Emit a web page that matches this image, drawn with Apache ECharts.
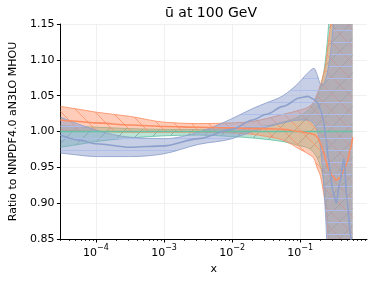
<!DOCTYPE html>
<html><head><meta charset="utf-8">
<script src="https://cdn.jsdelivr.net/npm/echarts@6/dist/echarts.min.js"></script>
<style>html,body{margin:0;padding:0;background:#fff}#c{width:374px;height:281px}</style>
</head><body><div id="c"></div>
<script>
// x grid (momentum fraction)
const xValues = [3.0e-5, 5.6e-5, 1e-4, 3.2e-4, 1e-3, 3.2e-3, 1e-2, 2.0e-2, 3.2e-2, 5.6e-2, 0.1, 0.13, 0.16, 0.18, 0.2, 0.22, 0.24, 0.26, 0.28, 0.3, 0.34, 0.38, 0.44, 0.49, 0.55, 0.59];

// NNPDF4.0 aN3LO MHOU (reference, green)
const greenMid = [1,1,1,1,1,1,1,1,1,1,1,1,1,1,1,1,1,1,1,1,1,1,1,1,1,1];
const greenLo = [0.978, 0.982, 0.986, 0.991, 0.994, 0.995, 0.993, 0.991, 0.989, 0.986, 0.980, 0.977, 0.970, 0.962, 0.950, 0.932, 0.905, 0.860, 0.80, 0.80, 0.80, 0.80, 0.80, 0.80, 0.80, 0.80];
const greenHi = [1.008, 1.007, 1.006, 1.004, 1.003, 1.003, 1.004, 1.006, 1.008, 1.013, 1.022, 1.030, 1.040, 1.050, 1.063, 1.080, 1.107, 1.145, 1.20, 1.20, 1.20, 1.20, 1.20, 1.20, 1.20, 1.20];

// orange set
const orangeMid = [1.016, 1.014, 1.012, 1.009, 1.007, 1.006, 1.005, 1.004, 1.004, 1.003, 1.000, 0.998, 0.996, 0.992, 0.983, 0.972, 0.958, 0.948, 0.942, 0.938, 0.932, 0.935, 0.946, 0.957, 0.976, 0.992];
const orangeLo = [1.002, 1.001, 1.000, 0.999, 0.999, 0.999, 0.998, 0.996, 0.993, 0.988, 0.975, 0.969, 0.962, 0.948, 0.937, 0.915, 0.890, 0.840, 0.80, 0.80, 0.80, 0.80, 0.80, 0.80, 0.80, 0.80];
const orangeHi = [1.035, 1.031, 1.027, 1.021, 1.013, 1.011, 1.012, 1.014, 1.018, 1.024, 1.030, 1.034, 1.042, 1.054, 1.066, 1.080, 1.097, 1.125, 1.150, 1.20, 1.20, 1.20, 1.20, 1.20, 1.20, 1.20];

// blue set
const blueMid = [0.995, 0.988, 0.983, 0.978, 0.980, 0.990, 1.003, 1.016, 1.024, 1.035, 1.047, 1.049, 1.045, 1.040, 1.030, 1.015, 0.990, 0.962, 0.939, 0.918, 0.900, 0.928, 0.962, 0.903, 0.855, 0.820];
const blueLo = [0.970, 0.967, 0.965, 0.965, 0.969, 0.982, 0.990, 1.000, 1.006, 1.012, 1.016, 1.016, 1.010, 1.000, 0.975, 0.930, 0.870, 0.80, 0.80, 0.80, 0.80, 0.80, 0.80, 0.80, 0.80, 0.80];
const blueHi = [1.020, 1.010, 1.002, 0.992, 0.990, 0.999, 1.018, 1.032, 1.040, 1.050, 1.070, 1.082, 1.088, 1.078, 1.066, 1.066, 1.075, 1.090, 1.110, 1.140, 1.20, 1.20, 1.20, 1.20, 1.20, 1.20];

// axes
const xMin = 3.0e-5, xMax = 0.96;
const xMajorTicks = [1e-4, 1e-3, 1e-2, 1e-1];
const xMinorTicks = [3e-5,4e-5,5e-5,6e-5,7e-5,8e-5,9e-5, 2e-4,3e-4,4e-4,5e-4,6e-4,7e-4,8e-4,9e-4, 2e-3,3e-3,4e-3,5e-3,6e-3,7e-3,8e-3,9e-3, 2e-2,3e-2,4e-2,5e-2,6e-2,7e-2,8e-2,9e-2, 0.2,0.3,0.4,0.5,0.6,0.7,0.8,0.9];
const yMin = 0.85, yMax = 1.15, yStep = 0.05;

const titleText = 'ū at 100 GeV';
const yTitle = 'Ratio to NNPDF4.0 aN3LO MHOU';
const xTitle = 'x';

const GREEN = '#66c2a5', ORANGE = '#fc8d62', BLUE = '#8da0cb';
const FONT = 'DejaVu Sans';
const L = Math.log10;

function hatch(fill, line, kind, size) {
  const c = document.createElement('canvas');
  c.width = size; c.height = size;
  const g = c.getContext('2d');
  g.fillStyle = fill; g.fillRect(0, 0, size, size);
  g.strokeStyle = line; g.lineWidth = 1;
  g.beginPath();
  if (kind === '\\') {
    for (const k of [-size, 0, size]) { g.moveTo(k, 0); g.lineTo(k + size, size); }
  } else if (kind === '/') {
    for (const k of [-size, 0, size]) { g.moveTo(k, size); g.lineTo(k + size, 0); }
  } else {
    g.moveTo(0, size / 2 + 0.5); g.lineTo(size, size / 2 + 0.5);
  }
  g.stroke();
  return c;
}

const patGreen = hatch('rgba(102,194,165,0.45)', 'rgba(70,120,100,0.45)', '/', 17);
const patOrange = hatch('rgba(252,141,98,0.45)', 'rgba(252,141,98,0.75)', '\\', 17);
const patBlue = hatch('rgba(141,160,203,0.5)', 'rgba(175,190,235,0.95)', '-', 12);

// monotone cubic (in pixel x) path through pixel points
function tangents(p) {
  const n = p.length, d = [], m = [];
  for (let i = 0; i < n - 1; i++) d.push((p[i + 1][1] - p[i][1]) / (p[i + 1][0] - p[i][0]));
  m[0] = d[0]; m[n - 1] = d[n - 2];
  for (let i = 1; i < n - 1; i++) {
    const h0 = p[i][0] - p[i - 1][0], h1 = p[i + 1][0] - p[i][0];
    const s0 = d[i - 1], s1 = d[i];
    const q = (s0 * h1 + s1 * h0) / (h0 + h1);
    m[i] = (Math.sign(s0) + Math.sign(s1)) * Math.min(Math.abs(s0), Math.abs(s1), 0.5 * Math.abs(q)) || 0;
  }
  return m;
}
function segs(p) {
  const m = tangents(p), out = [];
  for (let i = 0; i < p.length - 1; i++) {
    const h = p[i + 1][0] - p[i][0];
    out.push([[p[i][0] + h / 3, p[i][1] + m[i] * h / 3], [p[i + 1][0] - h / 3, p[i + 1][1] - m[i + 1] * h / 3]]);
  }
  return out;
}
function fwd(p) {
  const s = segs(p);
  let d = 'M' + p[0][0] + ' ' + p[0][1];
  for (let i = 0; i < s.length; i++) d += ' C' + s[i][0].join(' ') + ' ' + s[i][1].join(' ') + ' ' + p[i + 1].join(' ');
  return d;
}
function bwd(p) {
  const s = segs(p);
  let d = '';
  for (let i = s.length - 1; i >= 0; i--) d += ' C' + s[i][1].join(' ') + ' ' + s[i][0].join(' ') + ' ' + p[i].join(' ');
  return d;
}

function band(color, lo, hi, pat) {
  return {
    type: 'custom', coordinateSystem: 'cartesian2d', silent: true, z: 2,
    data: xValues.map((x, i) => [L(x), lo[i], hi[i]]),
    encode: { x: 0, y: 1 },
    renderItem: (params, api) => {
      if (params.dataIndex !== 0) return null;
      const loP = xValues.map((x, i) => api.coord([L(x), lo[i]]));
      const hiP = xValues.map((x, i) => api.coord([L(x), hi[i]]));
      const n = hiP.length;
      const cs = params.coordSys;
      const fillD = fwd(loP) + ' L' + hiP[n - 1].join(' ') + bwd(hiP) + ' Z';
      const edge = { fill: null, stroke: color, lineWidth: 1, opacity: 0.85 };
      return {
        type: 'group',
        clipPath: { type: 'rect', shape: { x: cs.x, y: cs.y, width: cs.width, height: cs.height } },
        children: [
          { type: 'path', shape: { pathData: fillD }, style: { fill: { image: pat, repeat: 'repeat' }, stroke: null } },
          { type: 'path', shape: { pathData: fwd(loP) }, style: edge },
          { type: 'path', shape: { pathData: fwd(hiP) }, style: edge }
        ]
      };
    }
  };
}
function mid(color, arr) {
  return { type: 'line', data: xValues.map((x, i) => [L(x), arr[i]]), symbol: 'none', smooth: 0.3, smoothMonotone: 'x', lineStyle: { color: color, width: 1.6 }, silent: true, z: 3 };
}

const chart = echarts.init(document.getElementById('c'), null, { renderer: 'canvas' });
chart.setOption({
  animation: false,
  backgroundColor: '#fff',
  grid: { left: 55, right: 7, top: 24, bottom: 42, containLabel: false },
  graphic: [{
    type: 'text', x: 211, y: 13, z: 10,
    style: { text: titleText, font: '14px "DejaVu Sans"', fill: '#000', textAlign: 'center', textVerticalAlign: 'middle' }
  }],
  xAxis: [{
    type: 'value', min: L(xMin), max: L(xMax),
    axisLine: { show: true, onZero: false, lineStyle: { color: '#000', width: 1 } },
    axisTick: { show: true, length: 3.5, customValues: xMajorTicks.map(L), lineStyle: { color: '#000', width: 1 } },
    axisLabel: {
      customValues: xMajorTicks.map(L), margin: 5,
      formatter: v => '{b|10}{s|' + (Math.round(v) < 0 ? '−' : '') + Math.abs(Math.round(v)) + '}',
      rich: {
        b: { fontFamily: FONT, fontSize: 11, color: '#000', lineHeight: 15, verticalAlign: 'bottom' },
        s: { fontFamily: FONT, fontSize: 8, color: '#000', lineHeight: 15, verticalAlign: 'top' }
      }
    },
    splitLine: { show: true, lineStyle: { color: '#ececec', width: 0.8 } },
    name: xTitle, nameLocation: 'middle', nameGap: 22,
    nameTextStyle: { fontFamily: FONT, fontSize: 11, color: '#000' }
  }, {
    type: 'value', min: L(xMin), max: L(xMax), gridIndex: 0, position: 'bottom',
    axisLine: { show: false },
    axisTick: { show: true, length: 2, customValues: xMinorTicks.map(L), lineStyle: { color: '#000', width: 0.8 } },
    axisLabel: { show: false },
    splitLine: { show: false }
  }],
  yAxis: {
    type: 'value', min: yMin, max: yMax, interval: yStep,
    axisLine: { show: true, onZero: false, lineStyle: { color: '#000', width: 1 } },
    axisTick: { show: true, length: 3.5, lineStyle: { color: '#000', width: 1 } },
    axisLabel: { formatter: v => v.toFixed(2), fontFamily: FONT, fontSize: 11, color: '#000', margin: 6 },
    splitLine: { show: true, lineStyle: { color: '#ececec', width: 0.8 } },
    name: yTitle, nameLocation: 'middle', nameGap: 38,
    nameTextStyle: { fontFamily: FONT, fontSize: 11, color: '#000' }
  },
  series: [
    band(GREEN, greenLo, greenHi, patGreen),
    band(ORANGE, orangeLo, orangeHi, patOrange),
    band(BLUE, blueLo, blueHi, patBlue),
    mid(GREEN, greenMid),
    mid(ORANGE, orangeMid),
    mid(BLUE, blueMid)
  ]
});
</script>
</body></html>
